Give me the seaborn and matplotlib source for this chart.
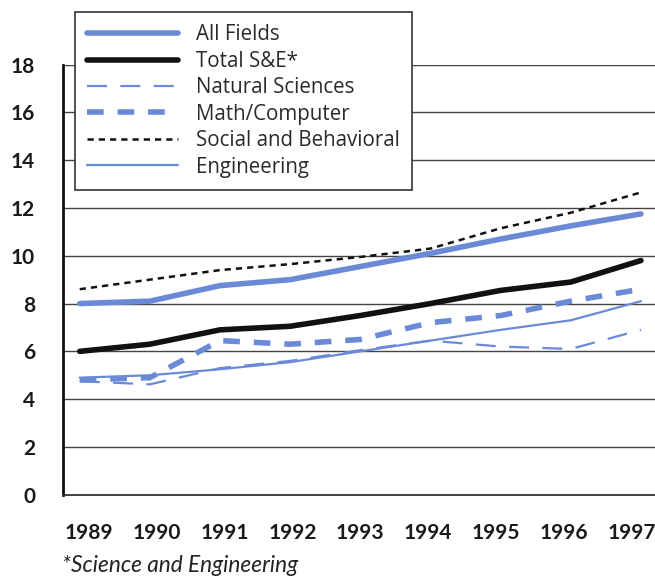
import matplotlib
matplotlib.use('Agg')
import matplotlib.pyplot as plt
import numpy as np
import seaborn as sns
import pandas as pd

years = [1989, 1990, 1991, 1992, 1993, 1994, 1995, 1996, 1997]
all_fields = [8.0, 8.1, 8.75, 9.0, 9.55, 10.1, 10.7, 11.25, 11.75]
total_se = [6.0, 6.3, 6.9, 7.05, 7.5, 8.0, 8.55, 8.9, 9.8]
natural = [4.75, 4.62, 5.3, 5.6, 6.05, 6.45, 6.2, 6.1, 6.9]
math_comp = [4.8, 4.9, 6.45, 6.3, 6.5, 7.2, 7.5, 8.1, 8.6]
social = [8.6, 9.0, 9.4, 9.65, 9.95, 10.3, 11.15, 11.8, 12.65]
engineering = [4.9, 5.0, 5.25, 5.55, 6.0, 6.45, 6.9, 7.3, 8.1]
y_ticks = [0, 2, 4, 6, 8, 10, 12, 14, 16, 18]

blue = '#6a8ad8'

sns.set_style('white')
plt.rcParams['font.family'] = 'Lato'

fig = plt.figure(figsize=(6.55, 5.76), dpi=100)
ax = fig.add_axes([0.096, 0.141, 0.904, 0.747])

series = [
    ('All Fields', all_fields, dict(color=blue, linewidth=4, linestyle='-')),
    ('Total S&E*', total_se, dict(color='#111111', linewidth=4, linestyle='-')),
    ('Natural Sciences', natural, dict(color=blue, linewidth=1.6, linestyle=(0, (9, 6)))),
    ('Math/Computer', math_comp, dict(color=blue, linewidth=4, linestyle=(0, (3, 2.5)))),
    ('Social and Behavioral', social, dict(color='#111111', linewidth=1.8, linestyle=(0, (2.5, 2)))),
    ('Engineering', engineering, dict(color=blue, linewidth=1.6, linestyle='-')),
]

for name, vals, style in series:
    df = pd.DataFrame({'year': years, 'value': vals})
    sns.lineplot(data=df, x='year', y='value', ax=ax, label=name, **style)

ax.set_xlim(1988.76, 1997.2)
ax.set_ylim(0, 18)
ax.set_yticks(y_ticks)
# tick labels sit slightly inside the first/last data points in the original
ax.set_xticks(np.linspace(1989.13, 1996.87, len(years)))
ax.set_xticklabels([str(y) for y in years])
ax.set_xlabel('')
ax.set_ylabel('')
for yv in y_ticks[1:]:
    ax.axhline(yv, color='#444444', linewidth=1.0, zorder=0)

for s in ['top', 'right']:
    ax.spines[s].set_visible(False)
ax.spines['left'].set_linewidth(2)
ax.spines['left'].set_color('#111111')
ax.spines['bottom'].set_linewidth(1.3)
ax.spines['bottom'].set_color('#333333')

ax.tick_params(axis='y', length=0, pad=20, labelsize=15)
ax.tick_params(axis='x', length=0, pad=20, labelsize=15)
for lbl in ax.get_xticklabels() + ax.get_yticklabels():
    lbl.set_fontweight('bold')
    lbl.set_color('#1a1a1a')

leg = ax.legend(loc='upper left', bbox_to_anchor=(75 / 655, 1 - 12 / 576),
                bbox_transform=fig.transFigure, frameon=True,
                prop={'family': 'Open Sans', 'size': 14.8},
                fancybox=False, edgecolor='#333333', handlelength=4.4,
                handletextpad=0.88, labelspacing=0.265, borderpad=0.6,
                borderaxespad=0)
leg.get_frame().set_linewidth(1.2)
leg.get_frame().set_alpha(1)
leg.set_zorder(10)
for t in leg.get_texts():
    t.set_color('#2a2a2a')

fig.text(62 / 655, 1 - 566 / 576, '*Science and Engineering', fontsize=16.3,
         style='italic', color='#222222', va='center')

fig.savefig('out.png', dpi=100)
